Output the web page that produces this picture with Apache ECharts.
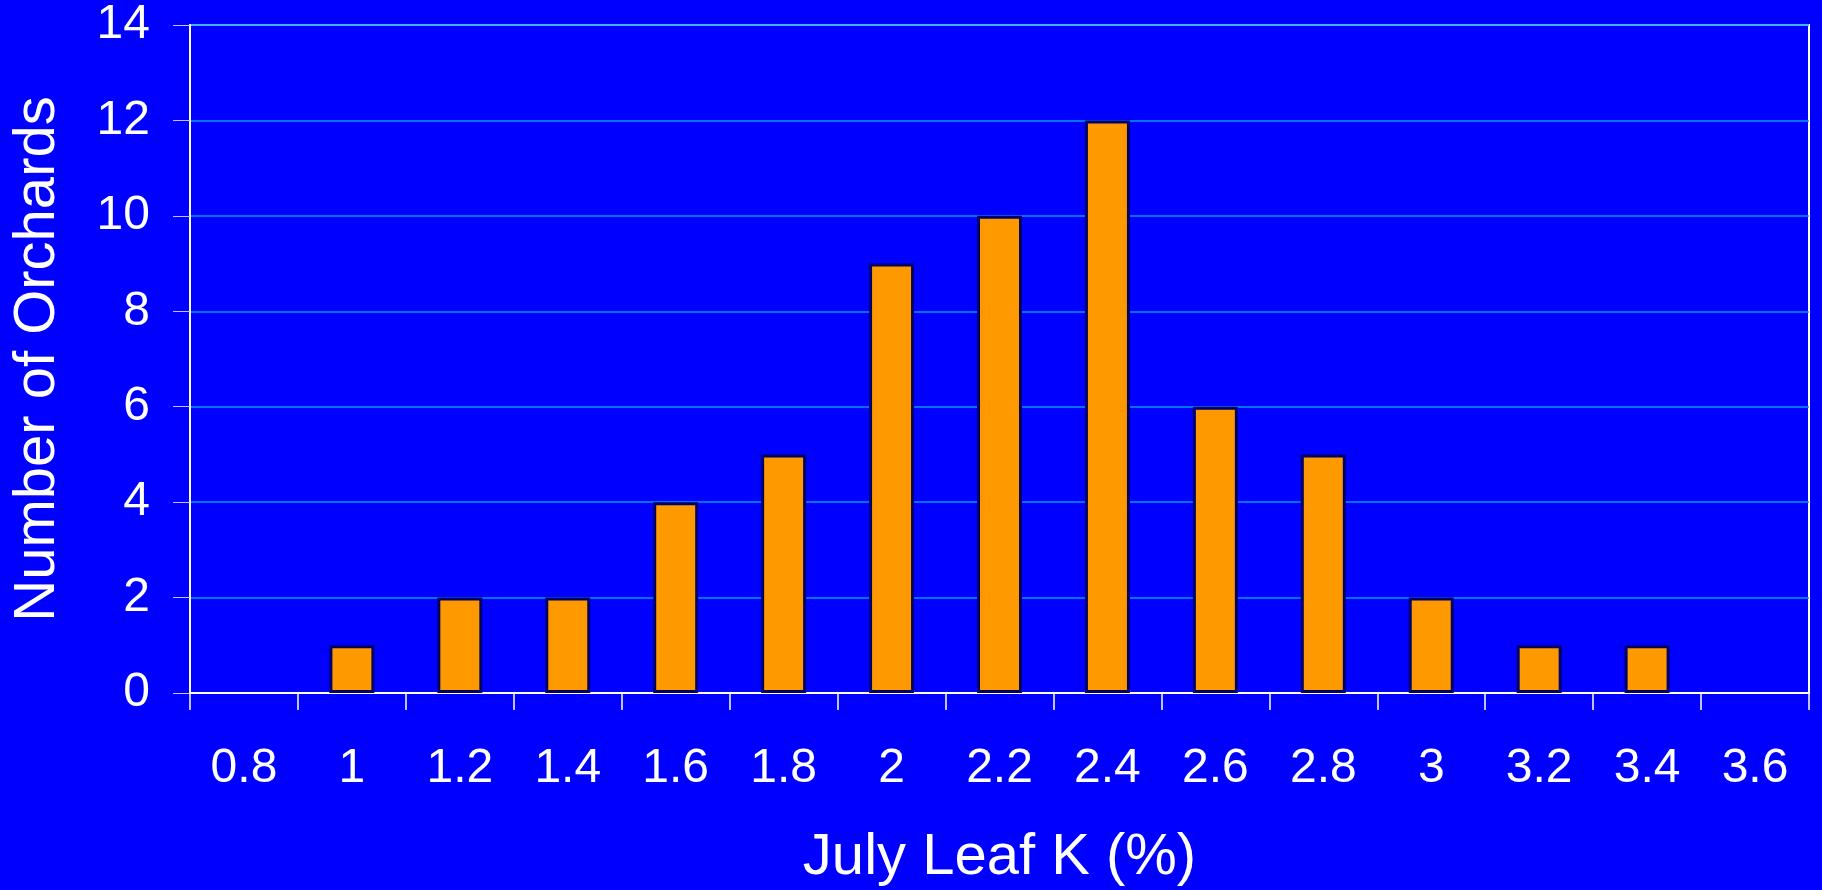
<!DOCTYPE html>
<html>
<head>
<meta charset="utf-8">
<script src="https://cdn.jsdelivr.net/npm/echarts@6/dist/echarts.min.js"></script>
<style>
html,body{margin:0;padding:0;background:#0000FF;}
#chart{width:1822px;height:890px;}
</style>
</head>
<body>
<div id="chart"></div>
<script>
const categories = ['0.8','1','1.2','1.4','1.6','1.8','2','2.2','2.4','2.6','2.8','3','3.2','3.4','3.6'];
const orchards = [0,1,2,2,4,5,9,10,12,6,5,2,1,1,0];
const xTitle = 'July Leaf K (%)';
const yTitle = 'Number of Orchards';

const chart = echarts.init(document.getElementById('chart'));
const font = 'Liberation Sans, Arial, sans-serif';
chart.setOption({
  backgroundColor: '#0000FF',
  animation: false,
  grid: {left: 190, right: 13, top: 25, bottom: 197, show: true, borderColor: '#FFFFFF', borderWidth: 2, containLabel: false, outerBoundsMode: 'none'},
  xAxis: {
    type: 'category',
    data: categories,
    boundaryGap: true,
    name: xTitle,
    nameLocation: 'middle',
    nameGap: 165,
    nameTextStyle: {color: '#FFFFFF', fontSize: 58, fontFamily: font, verticalAlign: 'middle'},
    axisLine: {show: true, lineStyle: {color: '#FFFFFF', width: 2}},
    axisTick: {show: true, alignWithLabel: false, length: 17, inside: false, lineStyle: {color: '#FFFFFF', width: 1.5}},
    axisLabel: {color: '#FFFFFF', fontSize: 48, fontFamily: font, margin: 52, interval: 0},
    splitLine: {show: false}
  },
  yAxis: {
    type: 'value',
    min: 0, max: 14, interval: 2,
    name: yTitle,
    nameLocation: 'middle',
    nameGap: 152,
    nameRotate: 90,
    nameTextStyle: {color: '#FFFFFF', fontSize: 58, fontFamily: font, verticalAlign: 'middle', padding: [0, 0, 16, 0]},
    axisLine: {show: true, lineStyle: {color: '#FFFFFF', width: 2}},
    axisTick: {show: true, length: 17, lineStyle: {color: '#C8C0FF', width: 1}},
    axisLabel: {color: '#FFFFFF', fontSize: 48, fontFamily: font, margin: 40},
    splitLine: {show: true, lineStyle: {color: '#0099FF', width: 1.5}}
  },
  series: [{
    type: 'bar',
    data: orchards.map(v => v === 0 ? {value: v, itemStyle: {borderWidth: 0, opacity: 0}} : v),
    barWidth: 45,
    itemStyle: {color: '#FF9900', borderColor: '#000066', borderWidth: 3}
  }]
});
</script>
</body>
</html>
